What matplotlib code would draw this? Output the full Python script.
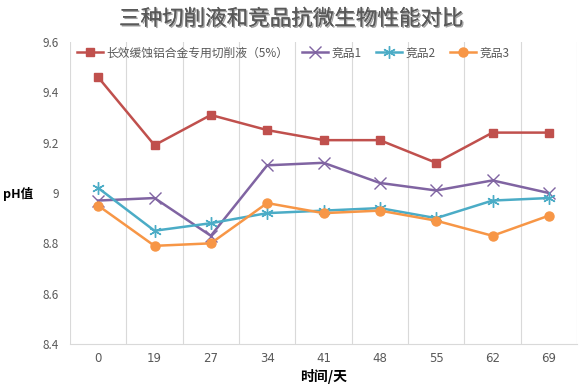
import matplotlib.pyplot as plt
import matplotlib.patheffects as pe
import numpy as np

plt.rcParams['font.family'] = ['Noto Sans CJK SC', 'DejaVu Sans']

# ── Data ──────────────────────────────────────────────────────────────────────
days = ["0", "19", "27", "34", "41", "48", "55", "62", "69"]
series_names = ["长效缓蚀铝合金专用切削液（5%）", "竞品1", "竞品2", "竞品3"]
ph_ours = [9.46, 9.19, 9.31, 9.25, 9.21, 9.21, 9.12, 9.24, 9.24]
ph_comp1 = [8.97, 8.98, 8.83, 9.11, 9.12, 9.04, 9.01, 9.05, 9.00]
ph_comp2 = [9.02, 8.85, 8.88, 8.92, 8.93, 8.94, 8.90, 8.97, 8.98]
ph_comp3 = [8.95, 8.79, 8.80, 8.96, 8.92, 8.93, 8.89, 8.83, 8.91]
y_ticks = [8.4, 8.6, 8.8, 9.0, 9.2, 9.4, 9.6]
y_tick_labels = ["8.4", "8.6", "8.8", "9", "9.2", "9.4", "9.6"]

# ── Styles ────────────────────────────────────────────────────────────────────
styles = [
    dict(color="#C0504D", marker="s", ms=6),
    dict(color="#8064A2", marker="x", ms=8),
    dict(color="#4BACC6", marker=(6, 2, 0), ms=9),
    dict(color="#F79646", marker="o", ms=6.5),
]

fig = plt.figure(figsize=(5.84, 3.89), dpi=100)
ax = fig.add_axes([70 / 584, 1 - 344 / 389, (577 - 70) / 584, (344 - 42) / 389])

x = np.arange(len(days))
for name, vals, st in zip(series_names, [ph_ours, ph_comp1, ph_comp2, ph_comp3], styles):
    ax.plot(x, vals, label=name, lw=1.8, color=st["color"], marker=st["marker"],
            ms=st["ms"], mew=1, mec=st["color"], mfc=st["color"])

ax.set_xlim(-0.5, len(days) - 0.5)
ax.set_ylim(8.4, 9.6)
ax.set_xticks(x)
ax.set_xticklabels(days, color="#595959", fontsize=8.5, family=["DejaVu Sans"])
ax.set_yticks(y_ticks)
ax.set_yticklabels(y_tick_labels, color="#595959", fontsize=8.5)
ax.tick_params(axis="x", length=0, pad=6)
ax.tick_params(axis="y", length=0, pad=8)

# vertical gridlines between categories
for b in np.arange(-0.5, len(days), 1.0):
    ax.axvline(b, color="#D9D9D9", lw=0.8, zorder=0)

for s in ["top", "right", "left"]:
    ax.spines[s].set_visible(False)
ax.spines["bottom"].set_color("#D9D9D9")

ax.set_xlabel("时间/天", fontsize=10, fontweight="bold", color="black", labelpad=3)
fig.text(3 / 584, 1 - 194 / 389, "pH值", fontsize=9, fontweight="bold",
         ha="left", va="center")

fig.text(291 / 584, 1 - 19 / 389, "三种切削液和竞品抗微生物性能对比", fontsize=15.5,
         fontweight="medium", color="#595959", ha="center", va="center",
         path_effects=[pe.withSimplePatchShadow(offset=(1, -1), alpha=0.4), pe.Normal()])

leg = ax.legend(loc="upper center", ncol=4, frameon=False, fontsize=8.5,
                bbox_to_anchor=(0.44, 1.02), handlelength=2.2, columnspacing=1.2,
                handletextpad=0.3)
for t in leg.get_texts():
    t.set_color("#595959")

fig.savefig("out.png", dpi=100)
